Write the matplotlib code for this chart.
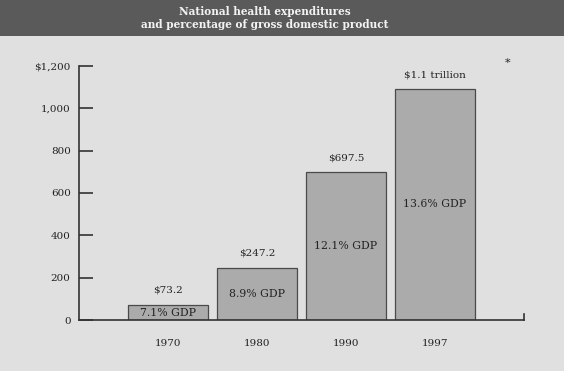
import matplotlib
matplotlib.use("Agg")
import matplotlib.pyplot as plt

years = ["1970", "1980", "1990", "1997"]
spending = [73.2, 247.2, 697.5, 1092.0]
value_labels = ["$73.2", "$247.2", "$697.5", "$1.1 trillion"]
gdp_labels = ["7.1% GDP", "8.9% GDP", "12.1% GDP", "13.6% GDP"]
yticks = [0, 200, 400, 600, 800, 1000, 1200]
ytick_labels = ["0", "200", "400", "600", "800", "1,000", "$1,200"]
title_lines = ["National health expenditures", "and percentage of gross domestic product"]

serif = ["DejaVu Serif"]
bg = "#e0e0e0"
fig = plt.figure(figsize=(5.64, 3.71), dpi=100, facecolor=bg)

# title band
band = fig.add_axes([0, 1 - 36 / 371, 1, 36 / 371])
band.set_facecolor("#5a5a5a")
band.set_xticks([]); band.set_yticks([])
for s in band.spines.values():
    s.set_visible(False)
band.text(0.47, 0.67, title_lines[0], ha="center", va="center", color="#f2f2f2",
          fontsize=7.6, fontweight="bold", family=serif, transform=band.transAxes)
band.text(0.47, 0.32, title_lines[1], ha="center", va="center", color="#f2f2f2",
          fontsize=7.6, fontweight="bold", family=serif, transform=band.transAxes)

ax = fig.add_axes([79 / 564, 1 - 320 / 371, (524 - 79) / 564, (320 - 66) / 371])
ax.set_facecolor(bg)
x = list(range(len(years)))
ax.bar(x, spending, width=0.9, color="#ababab", edgecolor="#4a4a4a", linewidth=0.9)
ax.set_xlim(-1, 4)
ax.set_ylim(0, 1200)
for s in ["top", "right"]:
    ax.spines[s].set_visible(False)
for s in ["left", "bottom"]:
    ax.spines[s].set_color("#333333")
    ax.spines[s].set_linewidth(1.2)
ax.plot([4, 4], [0, 28], color="#333333", lw=1.2, clip_on=False)

ax.set_yticks(yticks)
ax.set_yticklabels(ytick_labels, family=serif, fontsize=7.5, color="#222222")
ax.tick_params(axis="y", direction="in", length=10, width=1.2, color="#333333", pad=6)
ax.set_xticks(x)
ax.set_xticklabels(years, family=serif, fontsize=7.5, color="#222222")
ax.tick_params(axis="x", length=0, pad=14)

for xi, v, vl, gl in zip(x, spending, value_labels, gdp_labels):
    ax.annotate(vl, (xi, v), xytext=(0, 7), textcoords="offset points",
                ha="center", va="bottom", family=serif, fontsize=7.5, color="#222222")
    ax.text(xi, v / 2 if v > 150 else v * 0.45, gl, ha="center", va="center",
            family=serif, fontsize=7.8, color="#222222")

fig.text(508 / 564, 1 - 63 / 371, "*", ha="center", va="center", family=serif,
         fontsize=8, color="#222222")

fig.savefig("out.png", dpi=100, facecolor=bg)
